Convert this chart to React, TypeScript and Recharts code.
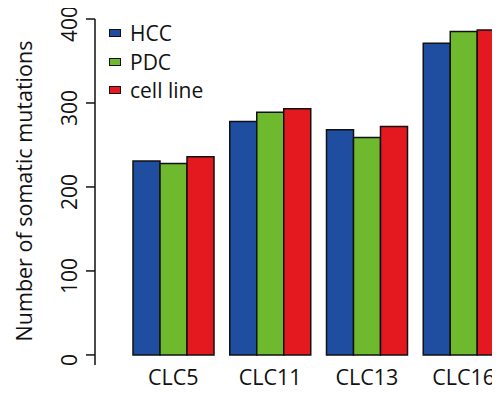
import { Bar, BarChart, XAxis, YAxis } from "recharts";

const categories = ["CLC5", "CLC11", "CLC13", "CLC16"];
const hcc = [231, 278, 268, 371];
const pdc = [228, 289, 259, 385];
const cellLine = [236, 293, 272, 387];
const yTicks = [0, 100, 200, 300, 400];

const series = [
  { key: "hcc", name: "HCC", color: "#1f4ea0" },
  { key: "pdc", name: "PDC", color: "#6eb92e" },
  { key: "cell", name: "cell line", color: "#e3191f" },
];

const data = categories.map((c, i) => ({
  name: c,
  hcc: hcc[i],
  pdc: pdc[i],
  cell: cellLine[i],
}));

const FONT = "'Open Sans', sans-serif";

function YTick({ y, payload }: any) {
  const cy = y + 5;
  return (
    <text
      x={77}
      y={cy}
      transform={`rotate(-90, 77, ${cy})`}
      textAnchor="middle"
      fontSize={21}
      fontFamily={FONT}
      fill="#111"
    >
      {payload.value}
    </text>
  );
}

function YLabel() {
  const cy = 191;
  return (
    <text
      x={32}
      y={cy}
      transform={`rotate(-90, 32, ${cy})`}
      textAnchor="middle"
      fontSize={21.5}
      fontFamily={FONT}
      fill="#111"
    >
      Number of somatic mutations
    </text>
  );
}

export default function App() {
  return (
    <div
      style={{
        position: "relative",
        width: 500,
        height: 396,
        overflow: "hidden",
        margin: -8,
        background: "#fff",
      }}
    >
      <BarChart
        width={512}
        height={396}
        data={data}
        margin={{ top: 19, right: 0, bottom: 1, left: 0 }}
        barCategoryGap={8}
        barGap={0}
      >
        <XAxis
          dataKey="name"
          height={30}
          axisLine={false}
          tickLine={false}
          tickSize={0}
          tickMargin={5}
          padding={{ left: 30, right: 0 }}
          tick={{ fontSize: 21.5, fontFamily: FONT, fill: "#111" }}
        />
        <YAxis
          width={95}
          domain={[-12, 400]}
          ticks={yTicks}
          allowDataOverflow
          tickSize={9}
          tick={<YTick />}
          axisLine={{ stroke: "#111", strokeWidth: 1.5 }}
          tickLine={{ stroke: "#111", strokeWidth: 1.5 }}
          label={{ content: <YLabel /> }}
        />
        {series.map((s) => (
          <Bar
            key={s.key}
            dataKey={s.key}
            name={s.name}
            fill={s.color}
            stroke="#111"
            strokeWidth={1.5}
            isAnimationActive={false}
          />
        ))}
      </BarChart>
      <div
        style={{
          position: "absolute",
          left: 109,
          top: 19,
          fontFamily: FONT,
          fontSize: 21,
          color: "#111",
        }}
      >
        {series.map((s) => (
          <div
            key={s.key}
            style={{ display: "flex", alignItems: "center", height: 28.5 }}
          >
            <span
              style={{
                display: "inline-block",
                width: 10,
                height: 6,
                background: s.color,
                border: "1.5px solid #111",
                marginRight: 9,
              }}
            />
            <span>{s.name}</span>
          </div>
        ))}
      </div>
    </div>
  );
}
